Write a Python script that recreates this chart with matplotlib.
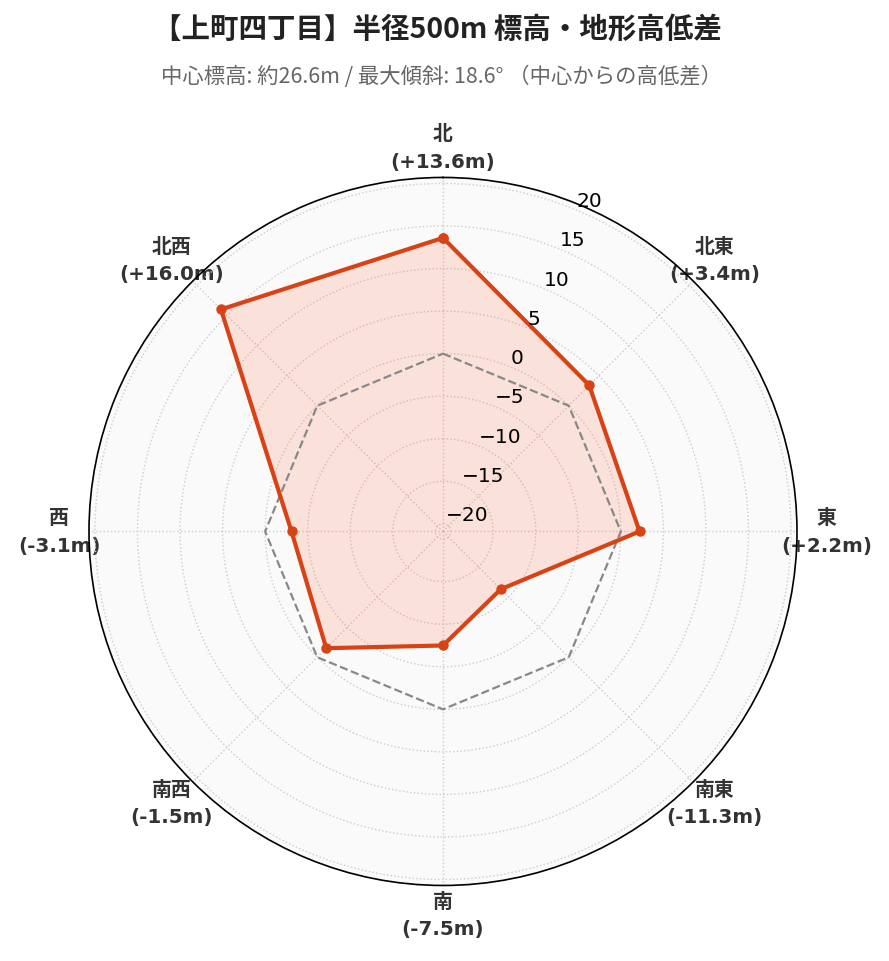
import numpy as np
import matplotlib
matplotlib.use("Agg")
import matplotlib.pyplot as plt

plt.rcParams['font.family'] = ['DejaVu Sans', 'Noto Sans CJK JP']

# data
directions = ["北", "北東", "東", "南東", "南", "南西", "西", "北西"]
angles_deg = [0, 45, 90, 135, 180, 225, 270, 315]
diffs = [13.6, 3.4, 2.2, -11.3, -7.5, -1.5, -3.1, 16.0]
r_ticks = [-20, -15, -10, -5, 0, 5, 10, 15, 20]

title = "【上町四丁目】半径500m 標高・地形高低差"
subtitle = "中心標高: 約26.6m / 最大傾斜: 18.6° （中心からの高低差）"

line_color = "#D84315"

fig = plt.figure(figsize=(8.89, 9.62), dpi=100)
ax = fig.add_axes([0.1001, 0.0785, 0.7964, 0.736], projection="polar")
ax.set_facecolor("#fafafa")
ax.set_theta_zero_location("N")
ax.set_theta_direction(-1)

theta = np.deg2rad(angles_deg)
theta_c = np.append(theta, theta[0])
vals_c = np.append(diffs, diffs[0])

ax.fill(theta_c, vals_c, color="#ff7043", alpha=0.18, lw=0, zorder=3)
# zero reference
ax.plot(theta_c, np.zeros_like(theta_c), ls="--", color="#888888", lw=1.6, zorder=3.5)
ax.plot(theta_c, vals_c, color=line_color, lw=3, marker="o", ms=6.5, zorder=4)

ax.set_ylim(-20.9, 20.7)
ax.set_yticks(r_ticks)
ax.set_yticklabels([])
lab_theta = np.deg2rad(22.5)
for v in r_ticks:
    ax.text(lab_theta, v, f"{v}".replace("-", "\u2212"), ha="left", va="bottom",
            fontsize=14.5, color="black", zorder=5)

ax.set_xticks(theta)
labels = [f"{d}\n({v:+.1f}m)" for d, v in zip(directions, diffs)]
ax.set_xticklabels(labels, fontsize=14.3, fontweight="bold", color="#333333",
                   linespacing=1.55)
ax.tick_params(axis="x", pad=11)

ax.grid(True, ls=":", color="#cccccc", lw=1.0)
ax.spines["polar"].set_color("black")
ax.spines["polar"].set_linewidth(1.2)

fig.text(0.492, 1 - 30 / 962, title, ha="center", va="center", fontsize=20.5,
         fontweight="bold", color="#222222", family=["Noto Sans CJK JP"])
fig.text(0.497, 1 - 77 / 962, subtitle, ha="center", va="center", fontsize=15.4,
         color="#666666", family=["Noto Sans CJK JP"])

fig.savefig("out.png", dpi=100)
